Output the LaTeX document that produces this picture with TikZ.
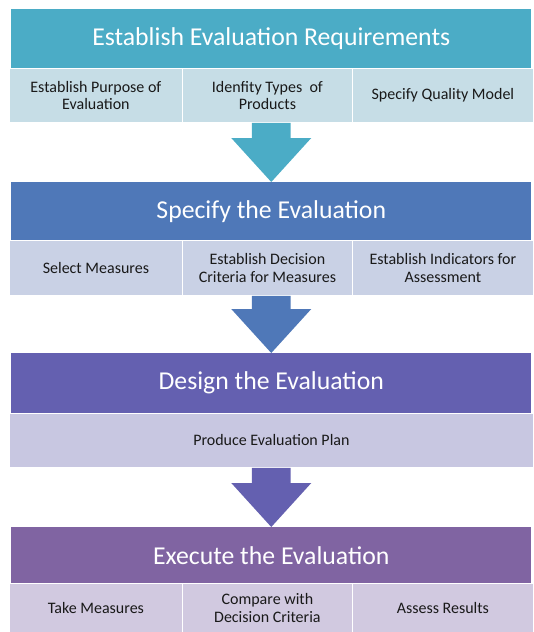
\documentclass[tikz,border=0pt]{standalone}
\usepackage{fontspec}
\setmainfont{Carlito}
\usetikzlibrary{calc}
\definecolor{headA}{HTML}{4BACC6}
\definecolor{subA}{HTML}{C6DDE6}
\definecolor{headB}{HTML}{4F78B8}
\definecolor{subB}{HTML}{C9D1E5}
\definecolor{headC}{HTML}{6460B0}
\definecolor{subC}{HTML}{C8C7E1}
\definecolor{headD}{HTML}{8064A2}
\definecolor{subD}{HTML}{D1C9E0}
\tikzset{
	head/.style={fill=#1, text=white, anchor=north west, inner sep=0pt,
		minimum width=390pt, font=\fontsize{19.3}{23}\selectfont},
	cell/.style={fill=#1, draw=white, line width=0.6pt, text=black!90, anchor=north west,
		inner sep=0pt, align=center, font=\fontsize{12}{13.2}\selectfont}
}
% block arrow from the top point #1 down to the tip #2
\newcommand{\bandarrow}[3]{%
	\fill[#3] let \p1=(#1), \p2=(#2) in
		(\x1-14.6pt,\y1) -- (\x1+14.6pt,\y1) -- (\x1+14.6pt,\y2+33pt) -- (\x1+30pt,\y2+33pt)
		-- (\x2,\y2) -- (\x1-30pt,\y2+33pt) -- (\x1-14.6pt,\y2+33pt) -- cycle;}
\begin{document}
\begin{tikzpicture}[x=0.75pt,y=-0.75pt]
				\useasboundingbox (0,0) rectangle (533,632);
				% band 1
				\node[head=headA, minimum height=44.25pt] (h1) at (11,9) {Establish Evaluation Requirements};
				\node[cell=subA, minimum width=129.75pt, minimum height=40.5pt] (c11) at (9,68) {Establish Purpose of\\Evaluation};
				\node[cell=subA, minimum width=127.5pt, minimum height=40.5pt] (c12) at (182,68) {Idenfity Types\ \ of\\Products};
				\node[cell=subA, minimum width=135.75pt, minimum height=40.5pt] (c13) at (352,68) {Specify Quality Model};
				% band 2
				\node[head=headB, minimum height=43.5pt] (h2) at (11,182) {Specify the Evaluation};
				\node[cell=subB, minimum width=129.75pt, minimum height=41.25pt] (c21) at (9,240) {Select Measures};
				\node[cell=subB, minimum width=127.5pt, minimum height=41.25pt] (c22) at (182,240) {Establish Decision\\Criteria for Measures};
				\node[cell=subB, minimum width=135.75pt, minimum height=41.25pt] (c23) at (352,240) {Establish Indicators for\\Assessment};
				% band 3
				\node[head=headC, minimum height=45pt] (h3) at (11,353) {Design the Evaluation};
				\node[cell=subC, minimum width=393pt, minimum height=40.5pt] (c31) at (9,413) {Produce Evaluation Plan};
				% band 4
				\node[head=headD, minimum height=42pt] (h4) at (11,527) {Execute the Evaluation};
				\node[cell=subD, minimum width=129.75pt, minimum height=36.75pt] (c41) at (9,583) {Take Measures};
				\node[cell=subD, minimum width=127.5pt, minimum height=36.75pt] (c42) at (182,583) {Compare with\\Decision Criteria};
				\node[cell=subD, minimum width=135.75pt, minimum height=36.75pt] (c43) at (352,583) {Assess Results};
				% arrows
				\coordinate (a1) at (h1.center |- c12.south);
				\coordinate (a2) at (h2.center |- c22.south);
				\coordinate (a3) at (h3.center |- c31.south);
				\bandarrow{a1}{h2.north}{headA}
				\bandarrow{a2}{h3.north}{headB}
				\bandarrow{a3}{h4.north}{headC}
			\end{tikzpicture}
\end{document}
